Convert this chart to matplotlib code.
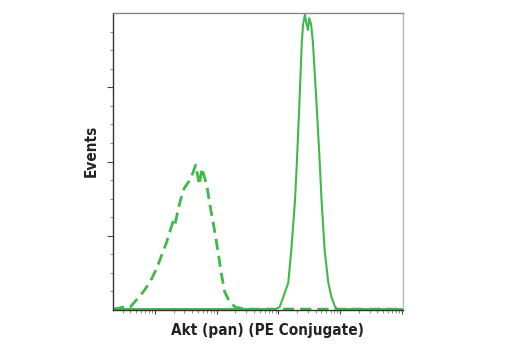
import matplotlib
matplotlib.use("Agg")
import matplotlib.pyplot as plt
from matplotlib import font_manager
import numpy as np
from matplotlib.ticker import FixedLocator

# log10 PE intensity (decades) vs normalised event count
akt_log = [-0.68, 1.96, 2.02, 2.08, 2.16, 2.21, 2.27, 2.30, 2.34, 2.38, 2.40,
           2.43, 2.45, 2.48, 2.50, 2.53, 2.56, 2.62, 2.66, 2.67, 2.70, 2.75,
           2.81, 2.86, 2.92, 2.96, 4.02]
akt_events = [0.003, 0.003, 0.010, 0.044, 0.091, 0.202, 0.370, 0.498, 0.690,
              0.902, 0.960, 0.995, 0.970, 0.943, 0.983, 0.963, 0.902, 0.690,
              0.539, 0.498, 0.370, 0.202, 0.091, 0.044, 0.010, 0.003, 0.003]

iso_log = [-0.68, -0.57, -0.45, -0.40, -0.30, -0.19, -0.08, 0.03, 0.11, 0.19,
           0.24, 0.29, 0.32, 0.38, 0.46, 0.50, 0.57, 0.62, 0.66, 0.72, 0.76,
           0.79, 0.84, 0.89, 0.97, 1.03, 1.08, 1.13, 1.21, 1.30, 1.46, 4.02]
iso_events = [0.003, 0.007, 0.013, 0.010, 0.034, 0.061, 0.094, 0.141, 0.185,
              0.229, 0.263, 0.296, 0.283, 0.343, 0.404, 0.418, 0.438, 0.465,
              0.488, 0.421, 0.478, 0.455, 0.421, 0.354, 0.263, 0.185, 0.118,
              0.061, 0.027, 0.010, 0.003, 0.003]

GREEN = "#3fb94a"

fig = plt.figure(figsize=(5.2, 3.5), dpi=100)
ax = fig.add_axes([113 / 520, 40 / 350, 290 / 520, 297 / 350])

ax.plot(iso_log, iso_events, color=GREEN, lw=2.0, dashes=(4, 2.2),
        solid_capstyle="butt")
ax.plot(akt_log, akt_events, color=GREEN, lw=1.5)

ax.set_xlim(-0.68, 4.02)
ax.set_ylim(0, 1.0)

# decade ticks with log minor ticks
majors = [0, 1, 2, 3, 4]
minors = [d + np.log10(k) for d in range(-1, 4) for k in range(2, 10)]
minors = [m for m in minors if -0.68 < m < 4.02]
ax.xaxis.set_major_locator(FixedLocator(majors))
ax.xaxis.set_minor_locator(FixedLocator(minors))
ax.yaxis.set_major_locator(FixedLocator([0.25, 0.5, 0.75]))
ax.yaxis.set_minor_locator(FixedLocator(np.arange(0.0625, 1.0, 0.0625)))
ax.tick_params(which="major", length=4, width=0.8, color="#444",
               labelbottom=False, labelleft=False)
ax.tick_params(which="minor", length=2, width=0.6, color="#777")
ax.tick_params(axis="x", which="major", length=3)

ax.spines["left"].set_color("#333")
ax.spines["bottom"].set_color("#333")
ax.spines["top"].set_color("#888")
ax.spines["right"].set_color("#bbb")
for s in ax.spines.values():
    s.set_linewidth(1.0)

# narrow bold face for the axis titles
label_font = font_manager.FontProperties(family="DejaVu Sans",
                                         stretch="condensed",
                                         weight="bold", size=11)

fig.text(267 / 520, 1 - 331 / 350, "Akt (pan) (PE Conjugate)", ha="center",
         va="center", fontproperties=label_font, color="#222")
fig.text(91 / 520, 1 - 151 / 350, "Events", ha="center", va="center",
         rotation=90, fontproperties=label_font, color="#222")

fig.savefig("out.png", dpi=100)
